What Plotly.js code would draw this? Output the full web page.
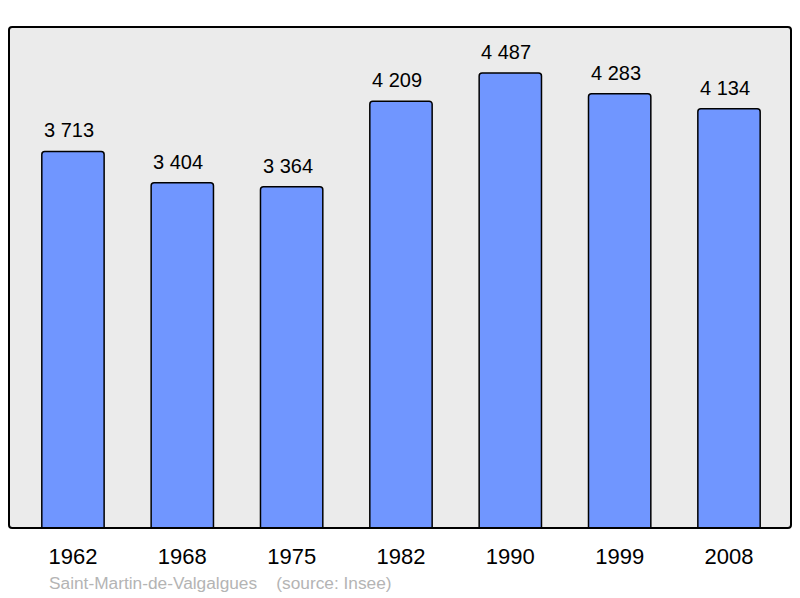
<!DOCTYPE html>
<html><head><meta charset="utf-8">
<script src="https://cdn.plot.ly/plotly-3.0.1.min.js"></script>
<style>html,body{margin:0;padding:0;background:#fff}#c{width:800px;height:598px}</style>
</head><body><div id="c"></div>
<script>
const years = ['1962','1968','1975','1982','1990','1999','2008'];
const population = [3713, 3404, 3364, 4209, 4487, 4283, 4134];
const valueLabels = ['3 713','3 404','3 364','4 209','4 487','4 283','4 134'];
const sourceText = 'Saint-Martin-de-Valgalgues    (source: Insee)';

const trace = {
  type: 'bar', x: years, y: population, width: 0.57,
  marker: {color: '#7096ff', line: {color: '#000', width: 1.5}, cornerradius: 3},
  hoverinfo: 'none'
};
const annotations = years.map((yr, i) => ({
  x: i, y: population[i], xref: 'x', yref: 'y', text: valueLabels[i],
  showarrow: false, yanchor: 'bottom', yshift: 8, xshift: -4,
  font: {family: 'Liberation Sans, Arial, sans-serif', size: 20, color: '#000'}
}));
annotations.push({
  xref: 'paper', yref: 'paper', x: 0.048, y: 0, yshift: -55, xanchor: 'left', yanchor: 'middle',
  text: sourceText.replace(/ /g, '&nbsp;').replace(/&nbsp;(?=\S)/g, ' '), showarrow: false,
  font: {family: 'Liberation Sans, Arial, sans-serif', size: 17.3, color: '#b4b4b4'}
});
const layout = {
  width: 800, height: 598,
  margin: {l: 9, r: 9, t: 27, b: 70},
  paper_bgcolor: '#fff', plot_bgcolor: '#ebebeb',
  showlegend: false,
  xaxis: {type: 'category', range: [-0.585, 6.567], showgrid: false, zeroline: false,
    showline: false, ticks: '', ticklabelstandoff: 13,
    tickfont: {family: 'Liberation Sans, Arial, sans-serif', size: 22, color: '#000'}},
  yaxis: {range: [0, 4940], showgrid: false, zeroline: false, showticklabels: false, showline: false},
  annotations: annotations,
  shapes: [{type: 'path', xref: 'paper', yref: 'paper',
    path: 'M 0.004,0 L 0.996,0 Q 1,0 1,0.006 L 1,0.994 Q 1,1 0.996,1 L 0.004,1 Q 0,1 0,0.994 L 0,0.006 Q 0,0 0.004,0 Z',
    line: {color: '#000', width: 2}, layer: 'above'}]
};
Plotly.newPlot('c', [trace], layout, {staticPlot: true});
</script></body></html>
